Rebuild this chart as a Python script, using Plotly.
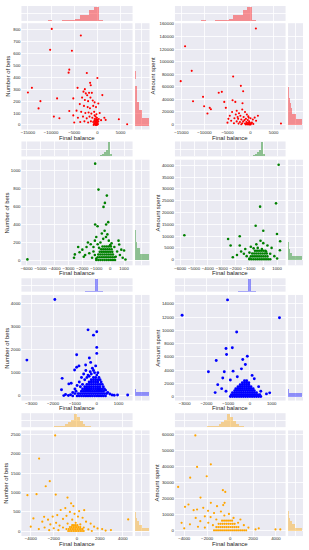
import plotly.graph_objects as go

# ---------------- DATA ----------------
# Row 1 (red)
red_bal_bets = [(-9850, 808), (-3570, 752), (-10200, 632), (-5500, 624), (-6070, 465), (-6210, 440),
    (-2280, 437), (0, 395), (-1570, 354), (-1430, 334), (-14140, 312), (-15000, 273), (-4280, 312),
    (-2710, 301), (1070, 251), (-12300, 200), (-8700, 223), (-5200, 223), (-12700, 139), (-9400, 70),
    (-8200, 56), (-6070, 117), (4640, 47), (6430, 6), (1790, 42), (-3000, 280), (-2500, 265),
    (-1800, 270), (-1200, 270), (-2200, 250), (-1500, 230), (-3300, 230), (-2700, 210), (-2000, 200),
    (-1000, 205), (-600, 190), (-3800, 175), (-2900, 160), (-2100, 150), (-1600, 140), (-900, 160),
    (-300, 150), (200, 180), (-4500, 120), (-3500, 110), (-2600, 100), (-1900, 105), (-1300, 95),
    (-700, 110), (-200, 90), (500, 100), (1500, 60), (-5200, 80), (-4200, 60), (-3100, 70),
    (-2300, 55), (-1700, 70), (-1100, 60), (-600, 50), (-400, 70), (-100, 60), (300, 50), (800, 40),
    (-5000, 20), (-3700, 25), (-2800, 30), (-2000, 20), (-1400, 30), (-900, 25), (-700, 10),
    (-500, 30), (-300, 10), (-200, 35), (0, 20), (100, 5), (-100, 0), (-400, 0), (-800, 0),
    (200, 30), (-50, 45), (-600, 80), (-350, 20), (-150, 15), (-250, 40), (-450, 5), (50, 10),
    (-550, 15), (-650, 35), (-300, 50), (-150, 30), (0, 40), (-250, 0), (-50, 20)]
red_bal_spent = [(1160, 152600), (-14200, 124500), (-12760, 85300), (-15150, 68900), (-3770, 76300),
    (-2100, 61500), (-1600, 53000), (-6230, 51900), (-6900, 50500), (-12470, 37100), (-10300, 44000),
    (-10070, 29000), (-8850, 26500), (-8600, 24400), (-9350, 17500), (-3900, 38700), (-3300, 36000),
    (-1740, 33900), (-5700, 36000), (-5360, 26500), (6600, 1600), (-3000, 22000), (-2500, 18000),
    (-1800, 24000), (-1200, 20000), (-2200, 14000), (-1500, 12000), (-800, 16000), (-400, 11000),
    (-3500, 10000), (-2700, 9000), (-2000, 8000), (-1000, 9000), (-600, 7000), (0, 10000),
    (500, 8000), (1200, 6000), (-4200, 6000), (-3000, 5000), (-2300, 4000), (-1600, 5000),
    (-900, 4000), (-300, 5000), (300, 3000), (-5000, 3000), (-3600, 2000), (-2600, 1500),
    (-1800, 2000), (-1200, 1500), (-700, 1000), (-400, 2000), (-100, 500), (100, 1500),
    (-200, 3000), (-600, 300), (0, 200), (-1000, 200), (-2000, 500), (600, 1000), (-4500, 14000),
    (-4000, 20000), (1600, 14000), (-2800, 12000), (-1300, 7000), (-500, 13000), (900, 11000),
    (-3200, 16000), (-4800, 9000), (-350, 800), (-150, 1800), (-250, 100),
    (-500, 400), (-800, 1500), (-300, 2500), (-50, 1200), (-650, 2200)]
red_bal_centers = [-15225, -14225, -13225, -12225, -11225, -10225, -9225, -8225, -7225, -6225,
    -5225, -4225, -3225, -2225, -1225, -225, 775, 1775, 2775, 3775, 4775, 5775, 6775]
red_bal_counts = [3, 3, 2, 3, 2, 4, 3, 3, 4, 6, 7, 15, 40, 45, 78, 100, 5, 2, 1, 1, 2, 0, 2]
red_bets_centers = [27, 93, 159, 225, 291, 357, 423, 489, 555, 621, 687, 753, 819]
red_bets_counts = [100, 48, 30, 17, 13, 3, 4, 2, 0, 2, 0, 1, 2]
red_spent_centers = [4250, 12750, 21250, 29750, 38250, 46750, 55250, 63750, 72250, 80750, 89250,
    97750, 106250, 114750, 123250, 131750, 140250, 148750]
red_spent_counts = [100, 55, 30, 22, 12, 8, 8, 2, 2, 2, 0, 0, 0, 0, 2, 0, 0, 2]

# Row 2 (green)
green_bal_bets = [(-1080, 1078), (-840, 789), (-240, 722), (-380, 641), (-480, 596), (-140, 426),
    (-290, 400), (-1080, 400), (-910, 381), (-5950, 11), (-2540, 67), (650, 178), (-2300, 150),
    (-2000, 120), (-1800, 60),
    (-1000, 5), (-850, 5), (-700, 5), (-550, 5), (-400, 5), (-250, 5), (-100, 5), (50, 5), (200, 5), (350, 5),
    (-900, 35), (-750, 35), (-600, 35), (-450, 35), (-300, 35), (-150, 35), (0, 35), (150, 35), (300, 35),
    (-850, 65), (-700, 65), (-550, 65), (-400, 65), (-250, 65), (-100, 65), (50, 65), (200, 65),
    (-750, 95), (-600, 95), (-450, 95), (-300, 95), (-150, 95), (0, 95), (150, 95),
    (-650, 125), (-500, 125), (-350, 125), (-200, 125), (-50, 125), (100, 125),
    (-550, 155), (-400, 155), (-250, 155), (-100, 155), (50, 155),
    (-1000, 20), (-1100, 60), (-1200, 100), (-1300, 30), (-1500, 80), (-1700, 150), (-1900, 40),
    (-2200, 90), (-2600, 30), (-1600, 200), (-1400, 180), (-1100, 220), (-900, 180), (-700, 200),
    (-500, 240), (-300, 260), (-100, 220), (100, 190), (300, 150), (500, 100), (700, 60), (900, 30),
    (1100, 10), (800, 120), (400, 40), (-1000, 260), (-600, 300), (-400, 330), (-200, 290),
    (-800, 140), (0, 170), (-1200, 150), (600, 220), (1000, 110)]
green_bal_spent = [(1110, 40280), (920, 23900), (-230, 22500), (-550, 14400), (0, 12300), (990, 10900),
    (-5700, 10350), (-2540, 8800), (-2360, 6000), (1220, 7830), (-1700, 9930),
    (-1000, 200), (-850, 200), (-700, 200), (-550, 200), (-400, 200), (-250, 200), (-100, 200), (50, 200),
    (200, 200), (350, 200), (500, 200),
    (-900, 1400), (-750, 1400), (-600, 1400), (-450, 1400), (-300, 1400), (-150, 1400), (0, 1400),
    (150, 1400), (300, 1400),
    (-800, 2600), (-650, 2600), (-500, 2600), (-350, 2600), (-200, 2600), (-50, 2600), (100, 2600), (250, 2600),
    (-600, 3800), (-450, 3800), (-300, 3800), (-150, 3800), (0, 3800), (150, 3800),
    (-1000, 500), (-1200, 1500), (-1400, 2500), (-1600, 3500), (-1900, 2000), (-2200, 1000),
    (-1000, 3000), (-700, 4800), (-400, 5000), (-100, 4500), (200, 3500), (500, 2500), (800, 1500),
    (1000, 500), (1200, 4000), (-500, 6500), (0, 7000), (-900, 5500), (-1700, 6000), (600, 5000),
    (-200, 8000), (-1300, 4500), (300, 6000)]
green_bal_centers = [-5925, -2475, -2325, -2025, -1875, -1725, -1575, -1425, -1275, -1125, -975, -825,
    -675, -525, -375, -225, -75, 75, 225, 375, 525, 675, 825, 975, 1125]
green_bal_counts = [0.5, 0.5, 0.5, 0.5, 0.7, 1, 1, 1.5, 2, 2.5, 3.5, 5, 8, 15, 30, 45, 100, 20, 6,
    4, 3, 2, 1.5, 1, 0.7]
green_bets_centers = [33.5, 100.5, 167.5, 234.5, 301.5, 368.5, 435.5, 502.5, 569.5, 636.5, 703.5,
    770.5, 837.5, 904.5, 971.5, 1038.5]
green_bets_counts = [100, 35, 14, 6, 3.5, 2, 1.5, 0.5, 0.5, 0.5, 0.5, 0.5, 0, 0, 0, 0.5]
green_spent_centers = [750, 2250, 3750, 5250, 6750, 8250, 9750, 11250, 12750, 14250, 15750, 17250,
    18750, 20250, 21750, 23250, 24750, 26250, 27750, 29250, 30750, 32250, 33750, 35250, 36750,
    38250, 39750]
green_spent_counts = [100, 30, 12, 6, 3.5, 2.5, 1.5, 1, 1, 0.5, 0.5, 0, 0, 0, 0.5, 0, 0.5, 0, 0,
    0, 0, 0, 0, 0, 0, 0, 0.5]

# Row 3 (blue)
blue_bal_bets = [(-1920, 4170), (-400, 2860), (0, 2780), (-150, 2630), (0, 2100), (-920, 1780),
    (0, 1840), (-3200, 1550), (-340, 1640), (-280, 1450), (-510, 1340), (-920, 1240), (-815, 1300),
    (-1015, 1120), (-1585, 760), (-1170, 550), (-1280, 520), (-1615, 270), (-1510, 14), (-1430, 60),
    (950, 40), (1415, 40), (800, 30),
    (-900, 0), (-800, 0), (-700, 0), (-600, 0), (-500, 0), (-400, 0), (-300, 0), (-200, 0), (-100, 0),
    (0, 0), (100, 0), (200, 0), (300, 0), (400, 0),
    (-850, 100), (-750, 100), (-650, 100), (-550, 100), (-450, 100), (-350, 100), (-250, 100),
    (-150, 100), (-50, 100), (50, 100), (150, 100), (250, 100), (350, 100),
    (-700, 200), (-600, 200), (-500, 200), (-400, 200), (-300, 200), (-200, 200), (-100, 200),
    (0, 200), (100, 200), (200, 200), (300, 200),
    (-650, 300), (-550, 300), (-450, 300), (-350, 300), (-250, 300), (-150, 300), (-50, 300),
    (50, 300), (150, 300), (250, 300),
    (-550, 400), (-450, 400), (-350, 400), (-250, 400), (-150, 400), (-50, 400), (50, 400), (150, 400),
    (-450, 500), (-350, 500), (-250, 500), (-150, 500), (-50, 500), (50, 500), (150, 500),
    (-350, 600), (-250, 600), (-150, 600), (-50, 600), (50, 600),
    (-250, 700), (-150, 700), (-50, 700), (50, 700), (-150, 800), (-50, 800),
    (-1200, 50), (-1100, 150), (-1000, 300), (-900, 450), (-800, 600), (-700, 800), (-600, 950),
    (-500, 1100), (-400, 900), (-300, 1050), (-200, 1200), (-100, 1000), (0, 900), (100, 800),
    (200, 600), (300, 400), (400, 250), (500, 150), (600, 80), (700, 40), (-1300, 20), (-1000, 100),
    (-950, 200), (-750, 400), (-650, 500), (-550, 700), (-450, 800), (-350, 850), (-250, 950),
    (-150, 1100), (-50, 1300), (50, 1000), (150, 700), (250, 500), (350, 300), (450, 100), (-1100, 0)]
blue_bal_spent = [(-1030, 14600), (-3120, 12270), (1360, 11900), (-610, 9750), (-1100, 7270),
    (-810, 7370), (-1075, 6360), (-120, 6100), (-1550, 5450), (-330, 5600), (-210, 4850),
    (-1910, 3740), (-1180, 3740), (-775, 3840), (-390, 4190), (910, 560), (760, 400),
    (-1250, 2800), (-1480, 1800), (-580, 3000), (-900, 2500), (-1300, 1200), (-1100, 800),
    (200, 2700), (100, 3200), (400, 1500), (500, 800), (-1600, 600),
    (-900, 0), (-800, 0), (-700, 0), (-600, 0), (-500, 0), (-400, 0), (-300, 0), (-200, 0), (-100, 0),
    (0, 0), (100, 0), (200, 0), (300, 0), (400, 0), (500, 0),
    (-850, 300), (-750, 300), (-650, 300), (-550, 300), (-450, 300), (-350, 300), (-250, 300),
    (-150, 300), (-50, 300), (50, 300), (150, 300), (250, 300), (350, 300), (450, 300),
    (-800, 600), (-700, 600), (-600, 600), (-500, 600), (-400, 600), (-300, 600), (-200, 600),
    (-100, 600), (0, 600), (100, 600), (200, 600), (300, 600),
    (-700, 900), (-600, 900), (-500, 900), (-400, 900), (-300, 900), (-200, 900), (-100, 900),
    (0, 900), (100, 900), (200, 900),
    (-650, 1200), (-550, 1200), (-450, 1200), (-350, 1200), (-250, 1200), (-150, 1200), (-50, 1200),
    (50, 1200), (150, 1200),
    (-550, 1500), (-450, 1500), (-350, 1500), (-250, 1500), (-150, 1500), (-50, 1500), (50, 1500),
    (-450, 1800), (-350, 1800), (-250, 1800), (-150, 1800), (-50, 1800),
    (-350, 2100), (-250, 2100), (-150, 2100), (-50, 2100), (-250, 2400), (-150, 2400)]
blue_bal_centers = [-3260, -1940, -1100, -980, -860, -740, -620, -500, -380, -260, -140, -20, 100,
    220, 340, 460, 580, 940, 1420]
blue_bal_counts = [0.3, 0.3, 0.4, 0.5, 0.6, 0.8, 1, 1.5, 2.5, 4, 9, 100, 7, 2, 1, 0.5, 0.3, 0.3, 0.3]
blue_bets_centers = [75, 225, 375, 525, 675, 825, 975, 1125, 1275, 1425, 1575, 1725, 1875, 2025,
    2625, 2775, 4125]
blue_bets_counts = [100, 6, 2.5, 1.5, 1, 0.7, 0.5, 0.4, 0.3, 0.2, 0.2, 0.2, 0.2, 0.1, 0.1, 0.1, 0.1]
blue_spent_centers = [275, 825, 1375, 1925, 2475, 3025, 3575, 4125, 4675, 5225, 5775, 6325, 7425,
    9625, 11825, 12375, 14575]
blue_spent_counts = [100, 8, 3, 1.5, 1, 0.6, 0.4, 0.3, 0.2, 0.2, 0.1, 0.1, 0.1, 0.1, 0.1, 0.1, 0.1]

# Row 4 (orange)
orange_bal_bets = [(-1880, 2466), (-3275, 1870), (-2350, 1290), (-2700, 1160), (-4290, 930),
    (-3500, 955), (-1830, 947), (-810, 870), (-4000, 120), (-3770, 333), (-2840, 375), (4460, 307),
    (2960, 34), (1800, 77), (640, 546),
    (-500, 720), (-300, 650), (-1000, 600), (-1400, 550), (-600, 500), (200, 520), (-200, 450),
    (-1700, 420), (-2100, 380), (-900, 400), (100, 380), (500, 350), (-1200, 320), (-2500, 300),
    (-3000, 250), (-400, 300), (800, 250), (1200, 200), (-1800, 220), (-2300, 180), (-1500, 150),
    (-800, 200), (-100, 220), (300, 180), (1500, 120), (2200, 60), (-2800, 100), (-2000, 80),
    (-1200, 100), (-900, 60), (600, 100), (1000, 50), (-3300, 60), (-1600, 30), (2500, 20),
    (-2400, 30), (1300, 10),
    (-750, 10), (-600, 10), (-450, 10), (-300, 10), (-150, 10), (0, 10), (150, 10), (300, 10),
    (450, 10), (600, 10),
    (-700, 60), (-550, 60), (-400, 60), (-250, 60), (-100, 60), (50, 60), (200, 60), (350, 60), (500, 60),
    (-600, 110), (-450, 110), (-300, 110), (-150, 110), (0, 110), (150, 110), (300, 110),
    (-400, 160), (-250, 160), (-100, 160), (50, 160)]
orange_bal_spent = [(-3030, 59400), (-1680, 41400), (-2880, 39750), (-3480, 33100), (-2040, 33950),
    (-4530, 27300), (-630, 25260), (-420, 24200), (-2580, 20700), (-1680, 17400), (-3630, 16350),
    (-3930, 14900), (-2880, 13250), (-2340, 14300), (-1920, 12400), (-3180, 12800), (-1140, 15300),
    (-480, 17400), (-4230, 4970), (2220, 830), (3960, 830), (4380, 830),
    (-1400, 11000), (-800, 12000), (-2200, 9000), (-3000, 8000), (-1700, 8500), (-500, 9500),
    (300, 8000), (-2600, 6000), (-1900, 5000), (-1200, 7000), (-3500, 4000), (700, 5000),
    (1200, 3500), (1600, 2000), (2500, 1500), (-2800, 2500), (-2200, 2000), (-4000, 1500),
    (-1500, 3500), (900, 7000), (-100, 10500), (-600, 16000),
    (-1400, 300), (-1225, 300), (-1050, 300), (-875, 300), (-700, 300), (-525, 300), (-350, 300),
    (-175, 300), (0, 300), (175, 300), (350, 300), (525, 300), (700, 300), (875, 300), (1050, 300),
    (1225, 300), (1400, 300),
    (-1200, 2300), (-1025, 2300), (-850, 2300), (-675, 2300), (-500, 2300), (-325, 2300),
    (-150, 2300), (25, 2300), (200, 2300), (375, 2300), (550, 2300), (725, 2300),
    (-1000, 4300), (-825, 4300), (-650, 4300), (-475, 4300), (-300, 4300), (-125, 4300), (50, 4300),
    (225, 4300), (400, 4300),
    (-700, 6300), (-525, 6300), (-350, 6300), (-175, 6300), (0, 6300), (175, 6300)]
orange_bal_centers = [-3875, -3625, -3375, -3125, -2875, -2625, -2375, -2125, -1875, -1625, -1375,
    -1125, -875, -625, -375, -125, 125, 375, 625, 875, 1125, 1375, 1625, 1875, 2125, 2375, 2625,
    2875, 3125, 4375]
orange_bal_counts = [0.5, 0.5, 1, 1.5, 2, 2.5, 3, 4, 5, 7, 9, 12, 20, 35, 55, 100, 75, 45, 25, 12,
    6, 4, 3, 2, 1.5, 1, 0.5, 0.5, 0.5, 0.5]
orange_bets_centers = [42.5, 127.5, 212.5, 297.5, 382.5, 467.5, 552.5, 637.5, 722.5, 807.5, 892.5,
    977.5, 1147.5, 1317.5, 1827.5, 2457.5]
orange_bets_counts = [100, 50, 25, 12, 6, 3.5, 2.5, 1.5, 1, 1, 0.8, 0.6, 0.5, 0.4, 0.3, 0.3]
orange_spent_centers = [1000, 3000, 5000, 7000, 9000, 11000, 13000, 15000, 17000, 19000, 21000,
    25000, 27000, 33000, 39000, 41000, 59000]
orange_spent_counts = [100, 50, 25, 12, 7, 4, 3, 2, 1.5, 1, 1, 0.8, 0.5, 0.5, 0.3, 0.3, 0.2]

# axis ticks / ranges
row_xranges = [[-16400, 7600], [-6380, 1610], [-3450, 1640], [-4810, 4840]]
row_xticks = [[-15000, -10000, -5000, 0, 5000], [-6000, -5000, -4000, -3000, -2000, -1000, 0, 1000],
              [-3000, -2000, -1000, 0, 1000], [-4000, -2000, 0, 2000, 4000]]
bets_yranges = [[-39, 856], [-55, 1122], [-200, 4370], [-120, 2594]]
bets_yticks = [list(range(0, 801, 100)), list(range(0, 1001, 200)), list(range(0, 4001, 1000)),
               list(range(0, 2501, 500))]
spent_yranges = [[-7950, 161000], [-2400, 42400], [-600, 15350], [-3300, 62500]]
spent_yticks = [list(range(0, 160001, 20000)), list(range(0, 40001, 5000)),
                list(range(0, 14001, 2000)), list(range(0, 60001, 10000))]

# ---------------- LAYOUT GEOMETRY (pixels) ----------------
W, H = 309, 550
BG = '#EAEAF2'
FONT = 'Liberation Sans, Arial, DejaVu Sans, sans-serif'
TXT = '#262626'
COLS = {'left': dict(main=(20.5, 132), marg=(134.5, 149)),
        'right': dict(main=(174.5, 285.5), marg=(288, 303))}
ROWS = [dict(top=(4, 19), main=(21.3, 128), xt=136),
        dict(top=(140, 155), main=(158.3, 264.3), xt=271.7),
        dict(top=(277.3, 290.7), main=(294, 400), xt=407.7),
        dict(top=(412.7, 426.7), main=(430, 536), xt=543.8)]
ytitle_x = {'left': [7.5, 6, 6, 5.5], 'right': [152.5, 157.5, 157.5, 156.7]}
MSIZE = [2.1, 2.6, 2.9, 2.2]

fig = go.Figure()
layout = {}
annotations = []

base_ax = dict(showgrid=True, gridcolor='white', gridwidth=0.8, zeroline=False, showline=False,
               ticks='', ticklen=0, tickangle=0, tickfont=dict(size=4.3, color=TXT, family=FONT),
               tickformat='d')


def sfx(n):
    return '' if n == 1 else str(n)


def add_panel(k, col, row, pts, hxc, hxn, hxw, hyc, hyn, hyw, yr, yt, color, hcolor, ytitle):
    a, b, c = 3 * k + 1, 3 * k + 2, 3 * k + 3
    cx, rr = COLS[col], ROWS[row]
    main_xd = [cx['main'][0] / W, cx['main'][1] / W]
    marg_xd = [cx['marg'][0] / W, cx['marg'][1] / W]
    main_yd = [1 - rr['main'][1] / H, 1 - rr['main'][0] / H]
    top_yd = [1 - rr['top'][1] / H, 1 - rr['top'][0] / H]
    xr, xt = row_xranges[row], row_xticks[row]

    fig.add_trace(go.Scatter(x=[p[0] for p in pts], y=[p[1] for p in pts], mode='markers',
                             marker=dict(size=MSIZE[row], color=color, line=dict(width=0)),
                             xaxis='x' + sfx(a), yaxis='y' + sfx(a), showlegend=False))
    fig.add_trace(go.Bar(x=hxc, y=hxn, width=hxw, marker=dict(color=hcolor, line=dict(width=0)),
                         xaxis='x' + sfx(b), yaxis='y' + sfx(b), showlegend=False))
    fig.add_trace(go.Bar(y=hyc, x=hyn, width=hyw, orientation='h',
                         marker=dict(color=hcolor, line=dict(width=0)),
                         xaxis='x' + sfx(c), yaxis='y' + sfx(c), showlegend=False))

    layout['xaxis' + sfx(a)] = dict(base_ax, domain=main_xd, range=xr, tickvals=xt, anchor='y' + sfx(a),
                                    ticklabelstandoff=-1)
    layout['yaxis' + sfx(a)] = dict(base_ax, domain=main_yd, range=yr, tickvals=yt, anchor='x' + sfx(a))
    layout['xaxis' + sfx(b)] = dict(base_ax, domain=main_xd, range=xr, tickvals=xt, showticklabels=False,
                                    anchor='y' + sfx(b))
    layout['yaxis' + sfx(b)] = dict(base_ax, domain=top_yd, range=[0, max(hxn) * 1.05],
                                    tickvals=[max(hxn) * 0.5], showticklabels=False, anchor='x' + sfx(b))
    layout['xaxis' + sfx(c)] = dict(base_ax, domain=marg_xd, range=[0, max(hyn) * 1.05],
                                    tickvals=[max(hyn) * 0.5], showticklabels=False, anchor='y' + sfx(c))
    layout['yaxis' + sfx(c)] = dict(base_ax, domain=main_yd, range=yr, tickvals=yt, showticklabels=False,
                                    anchor='x' + sfx(c))

    annotations.append(dict(text='Final balance', x=(main_xd[0] + main_xd[1]) / 2, y=1 - rr['xt'] / H,
                            xref='paper', yref='paper', showarrow=False, xanchor='center', yanchor='middle',
                            borderpad=0, font=dict(size=6, color=TXT, family=FONT)))
    annotations.append(dict(text=ytitle, x=ytitle_x[col][row] / W, y=(main_yd[0] + main_yd[1]) / 2,
                            xref='paper', yref='paper', showarrow=False, textangle=-90, borderpad=0,
                            xanchor='center', yanchor='middle', font=dict(size=6, color=TXT, family=FONT)))


specs = [
    ('red', 'rgba(255,0,0,0.4)', red_bal_bets, red_bal_spent, red_bal_centers, red_bal_counts, 1000,
     red_bets_centers, red_bets_counts, 66, red_spent_centers, red_spent_counts, 8500),
    ('green', 'rgba(0,128,0,0.4)', green_bal_bets, green_bal_spent, green_bal_centers, green_bal_counts, 150,
     green_bets_centers, green_bets_counts, 67, green_spent_centers, green_spent_counts, 1500),
    ('blue', 'rgba(0,0,255,0.4)', blue_bal_bets, blue_bal_spent, blue_bal_centers, blue_bal_counts, 120,
     blue_bets_centers, blue_bets_counts, 150, blue_spent_centers, blue_spent_counts, 550),
    ('orange', 'rgba(255,165,0,0.4)', orange_bal_bets, orange_bal_spent, orange_bal_centers,
     orange_bal_counts, 250, orange_bets_centers, orange_bets_counts, 85, orange_spent_centers,
     orange_spent_counts, 2000),
]

for r, (col, hcol, pb, ps, bc, bn, bw, yc1, yn1, yw1, yc2, yn2, yw2) in enumerate(specs):
    add_panel(2 * r, 'left', r, pb, bc, bn, bw, yc1, yn1, yw1, bets_yranges[r], bets_yticks[r],
              col, hcol, 'Number of bets')
    add_panel(2 * r + 1, 'right', r, ps, bc, bn, bw, yc2, yn2, yw2, spent_yranges[r], spent_yticks[r],
              col, hcol, 'Amount spent')

fig.update_layout(width=W, height=H, margin=dict(l=0, r=0, t=0, b=0), paper_bgcolor='white',
                  plot_bgcolor=BG, showlegend=False, bargap=0, annotations=annotations,
                  font=dict(family=FONT, color=TXT), hovermode=False, **layout)
fig.write_html('out.html', config={'displayModeBar': False, 'staticPlot': True},
               post_script="document.body.style.margin='0';document.body.style.padding='0';")
